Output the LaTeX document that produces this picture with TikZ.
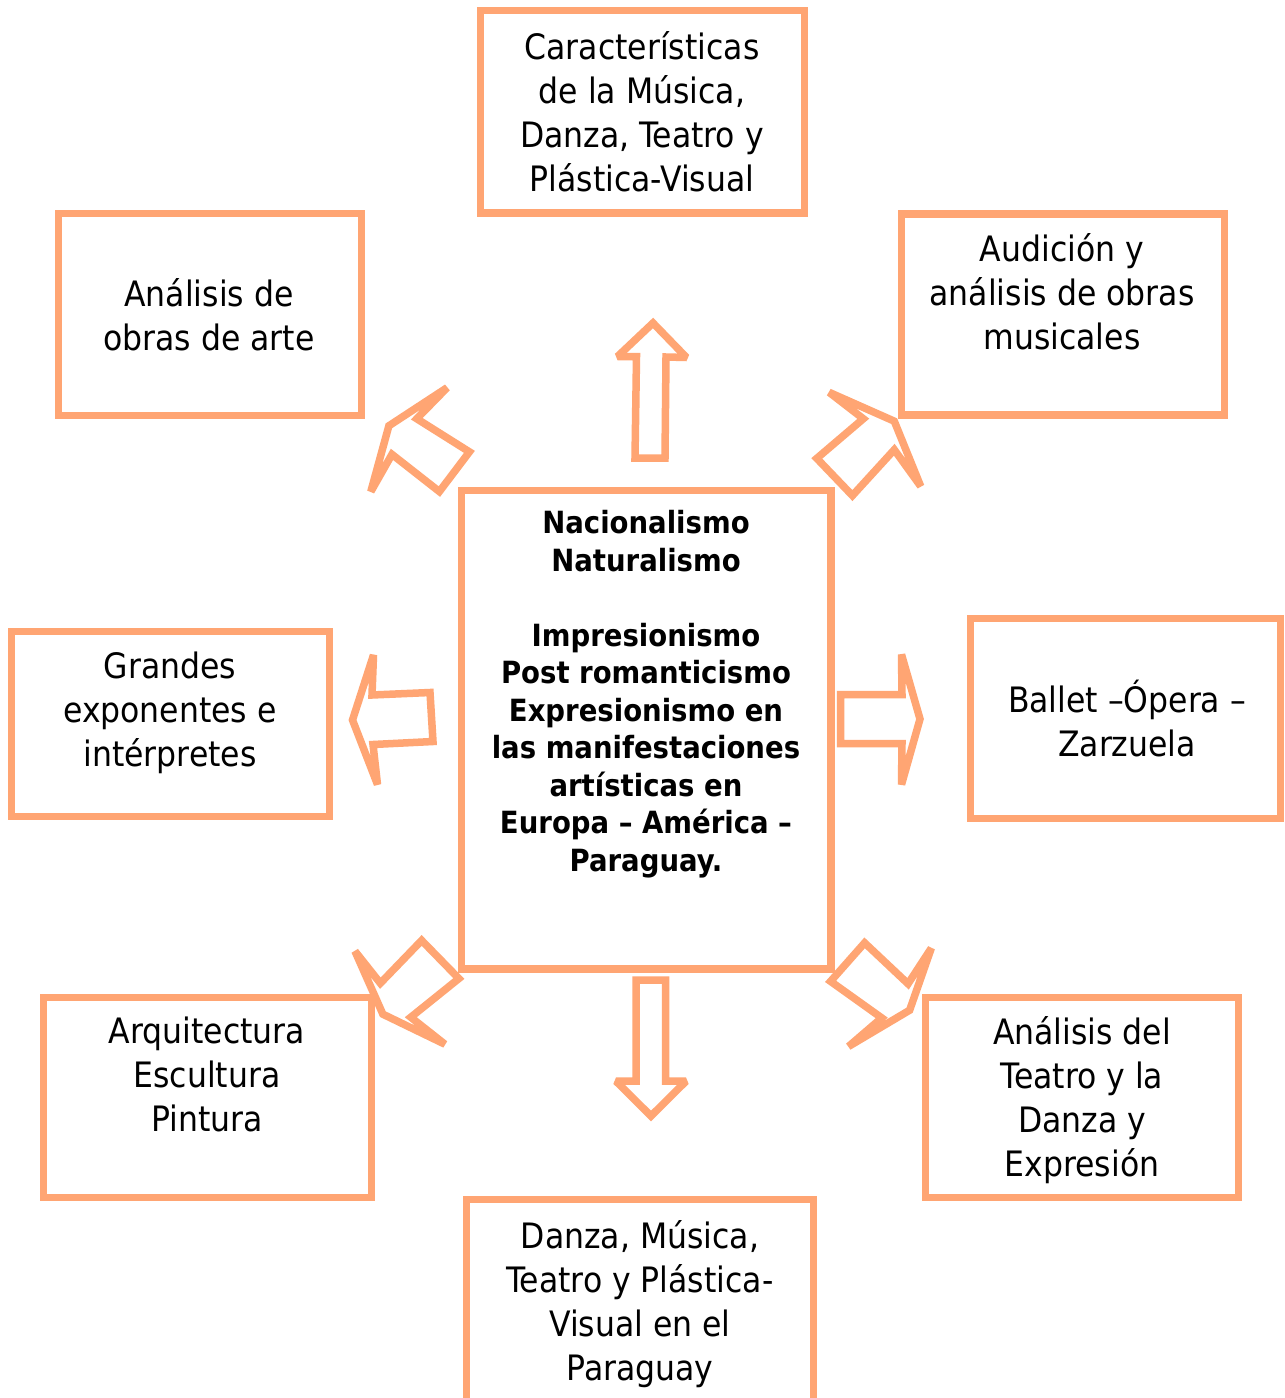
\documentclass[tikz,border=0pt]{standalone}
\usepackage{fontspec}
\setmainfont{DejaVu Sans Condensed}
\definecolor{accent}{RGB}{255,165,115}
\tikzset{
  box/.style={draw=accent, line width=7.5pt, rectangle, inner sep=0pt},
  txt/.style={font=\fontsize{35}{44}\selectfont, align=center, inner sep=0pt,
    execute at begin node=\strut, execute at end node=\strut},
  btxt/.style={font=\fontsize{30.6}{37.5}\selectfont\bfseries, align=center, inner sep=0pt,
    execute at begin node=\strut, execute at end node=\strut},
  blockarrow/.style={draw=accent, line width=7.5pt, line join=miter, miter limit=2, fill=white}
}
\begin{document}
\begin{tikzpicture}[x=1pt,y=-1pt]
\useasboundingbox (0,0) rectangle (1285,1398);
\clip (0,0) rectangle (1285,1398);
\fill[white] (0,0) rectangle (1285,1398);

% boxes
\node[box, minimum width=324pt, minimum height=202.5pt] (btop) at (642.5,111.75) {};
\node[box, minimum width=303pt, minimum height=202pt] (btl) at (210,314.5) {};
\node[box, minimum width=323pt, minimum height=201pt] (btr) at (1063,314.5) {};
\node[box, minimum width=369.7pt, minimum height=478.7pt] (bc) at (646.2,729.7) {};
\node[box, minimum width=318pt, minimum height=185pt] (bml) at (170.5,724) {};
\node[box, minimum width=310pt, minimum height=200pt] (bmr) at (1125.5,718.5) {};
\node[box, minimum width=328pt, minimum height=200pt] (bbl) at (207.5,1097.5) {};
\node[box, minimum width=313pt, minimum height=200pt] (bbr) at (1082,1097.5) {};
\node[box, minimum width=347pt, minimum height=230pt] (bbot) at (640,1314.5) {};

% texts
\node[txt] (ttop) at (642,117.6) {Características\\de la Música,\\Danza, Teatro y\\Plástica-Visual};
\node[txt] (ttl) at (209,320.6) {Análisis de\\obras de arte};
\node[txt] (ttr) at (1062,297.6) {Audición y\\análisis de obras\\musicales};
\node[txt] (tml) at (170,715.6) {Grandes\\exponentes e\\intérpretes};
\node[txt] (tmr) at (1127,724.6) {Ballet –Ópera –\\Zarzuela};
\node[txt] (tbl) at (207,1080.6) {Arquitectura\\Escultura\\Pintura};
\node[txt] (tbr) at (1082,1102.6) {Análisis del\\Teatro y la\\Danza y\\Expresión};
\node[txt] (tbot) at (640,1306.6) {Danza, Música,\\Teatro y Plástica-\\Visual en el\\Paraguay};
\node[btxt] (tc) at (646,696.5) {Nacionalismo\\Naturalismo\\[37.5pt]Impresionismo\\Post romanticismo\\Expresionismo en\\las manifestaciones\\artísticas en\\Europa – América –\\Paraguay.};

% up arrow
\draw[blockarrow] (653,323) -- (686.5,357.5) -- (666,357) -- (665,458) -- (635,458)
  -- (636.5,356.5) -- (617.5,356.5) -- cycle;
% down arrow
\draw[blockarrow] (636,980.2) -- (665.5,980.2) -- (665.5,1081.2) -- (686,1081.2)
  -- (651,1116) -- (616,1081.2) -- (636,1081.2) -- cycle;
% left arrow
\draw[blockarrow] (352.5,720) -- (373.5,655) -- (372,695) -- (430,692.5) -- (433,741.5)
  -- (373,744.5) -- (377.5,784.5) -- cycle;
% right arrow
\draw[blockarrow] (840.5,694.5) -- (902,694.5) -- (901.5,654.5) -- (920,719)
  -- (901.5,784.5) -- (902,743.5) -- (840.5,743.5) -- cycle;

% NW arrow
\begin{scope}[shift={(417.8,445.9)}, scale=0.93, shift={(-417.8,-445.9)}]
\draw[blockarrow] (449.3,383.3) -- (386.7,424.3) -- (367.3,495) -- (390,455)
  -- (441,495) -- (473.3,452.3) -- (416.7,416.7) -- cycle;
\end{scope}
% NE arrow
\begin{scope}[shift={(867.3,446)}, scale=0.93, shift={(-867.3,-446)}]
\draw[blockarrow] (826.3,388.3) -- (896.3,419.3) -- (924.7,489.3) -- (896.3,450)
  -- (851.3,499.3) -- (813,459.3) -- (863,416.7) -- cycle;
\end{scope}
% SW arrow
\begin{scope}[shift={(407.8,989.9)}, scale=0.93, shift={(-407.8,-989.9)}]
\draw[blockarrow] (351,948.3) -- (378.3,982.7) -- (422.7,936.7) -- (462.7,977.7)
  -- (411,1019.3) -- (447.7,1048.3) -- (381,1016) -- cycle;
\end{scope}
% SE arrow
\begin{scope}[shift={(882.1,990.1)}, scale=0.93, shift={(-882.1,-990.1)}]
\draw[blockarrow] (935,945) -- (911.7,1011.7) -- (846,1050.7) -- (881.7,1020)
  -- (826.7,980.7) -- (863.3,939.3) -- (910,983.3) -- cycle;
\end{scope}
\end{tikzpicture}
\end{document}
